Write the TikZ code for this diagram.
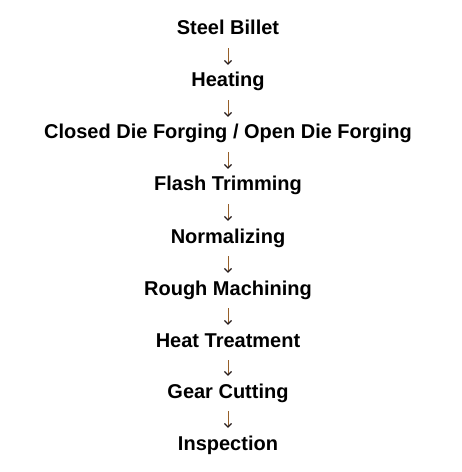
\documentclass[tikz,border=0pt]{standalone}
\usepackage{fontspec}
\setmainfont{Liberation Sans}
\usetikzlibrary{arrows.meta}
\definecolor{arrowc}{RGB}{150,95,40}
\definecolor{headc}{RGB}{40,30,30}
\tikzset{
  stage/.style={font=\bfseries\fontsize{20bp}{24bp}\selectfont, inner sep=0pt, anchor=base, text height=15bp, text depth=5bp},
  flow/.style={draw=arrowc, line width=1bp, -{Straight Barb[length=3.5bp,width=7bp,color=headc,line width=1.2bp]}, shorten <=8bp, shorten >=7bp}
}
\begin{document}
\begin{tikzpicture}[x=1bp,y=-1bp]
\useasboundingbox (0,0) rectangle (462,472);
\node[stage] (s1) at (228,35) {Steel Billet};
\node[stage] (s2) at (228,87) {Heating};
\node[stage] (s3) at (228,139) {Closed Die Forging / Open Die Forging};
\node[stage] (s4) at (228,191) {Flash Trimming};
\node[stage] (s5) at (228,243) {Normalizing};
\node[stage] (s6) at (228,295) {Rough Machining};
\node[stage] (s7) at (228,347) {Heat Treatment};
\node[stage] (s8) at (228,398) {Gear Cutting};
\node[stage] (s9) at (228,450) {Inspection};
\foreach \a/\b in {s1/s2,s2/s3,s3/s4,s4/s5,s5/s6,s6/s7,s7/s8,s8/s9}
  \draw[flow] (\a.south) -- (\b.north);
\end{tikzpicture}
\end{document}
